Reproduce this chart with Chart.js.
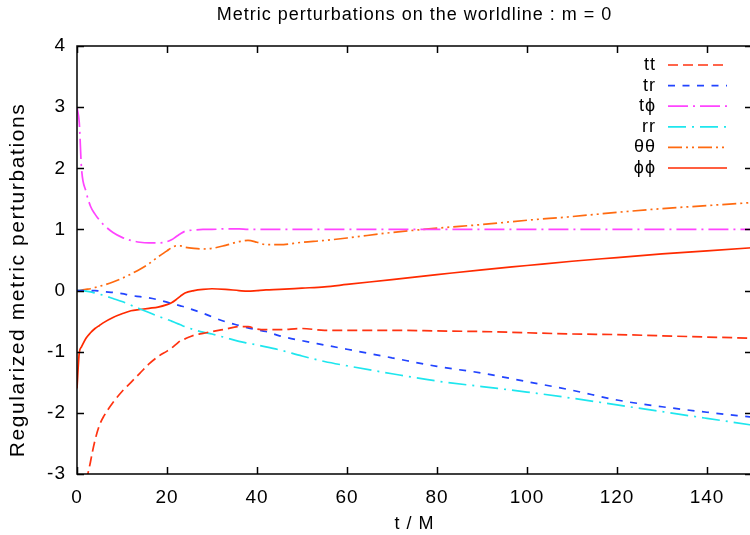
<!DOCTYPE html>
<html>
<head>
<meta charset="utf-8">
<script src="https://cdn.jsdelivr.net/npm/chart.js@4.4.0/dist/chart.umd.min.js"></script>
<style>
	html, body { margin: 0; padding: 0; background: #fff; overflow: hidden; }
	#chart { display: block; }
</style>
</head>
<body>
<canvas id="chart" width="753" height="535"></canvas>
<script>
// time samples (t / M) shared by every component
var times = [0, 0.5, 1, 2, 3, 4, 5, 6, 8, 10, 12, 14, 16, 18, 20, 21, 22, 23, 24, 26, 28, 30, 33, 36, 38, 40, 42, 45, 50, 55, 60, 70, 80, 90, 100, 110, 120, 130, 140, 150];

var h_tt = [-9, -6, -4.5, -3.25, -2.8, -2.45, -2.2, -2.05, -1.83, -1.65, -1.5, -1.35, -1.2, -1.08, -0.99, -0.94, -0.88, -0.82, -0.79, -0.73, -0.7, -0.67, -0.63, -0.59, -0.59, -0.63, -0.64, -0.64, -0.62, -0.65, -0.65, -0.65, -0.66, -0.67, -0.69, -0.71, -0.72, -0.74, -0.76, -0.78];
var h_tr = [0, 0, 0, 0, 0, 0, -0.01, -0.02, -0.03, -0.05, -0.08, -0.1, -0.12, -0.15, -0.19, -0.21, -0.23, -0.25, -0.27, -0.32, -0.37, -0.43, -0.51, -0.57, -0.61, -0.64, -0.67, -0.74, -0.82, -0.89, -0.96, -1.1, -1.24, -1.35, -1.49, -1.63, -1.79, -1.9, -1.99, -2.07];
var h_tphi = [3.0, 2.75, 2.0, 1.62, 1.38, 1.25, 1.15, 1.07, 0.95, 0.87, 0.82, 0.79, 0.78, 0.78, 0.8, 0.83, 0.88, 0.93, 0.97, 0.99, 1.0, 1.0, 1.01, 1.01, 1.0, 1.0, 1.0, 1.0, 1.0, 1.0, 1.0, 1.0, 1.0, 1.0, 1.0, 1.0, 1.0, 1.0, 1.0, 1.0];
var h_rr = [0, 0, 0, -0.01, -0.02, -0.04, -0.06, -0.08, -0.13, -0.18, -0.24, -0.3, -0.36, -0.42, -0.47, -0.5, -0.53, -0.56, -0.59, -0.64, -0.68, -0.71, -0.77, -0.83, -0.86, -0.89, -0.92, -0.97, -1.07, -1.16, -1.23, -1.36, -1.48, -1.57, -1.66, -1.76, -1.87, -1.98, -2.09, -2.2];
var h_thth = [0, 0, 0.01, 0.02, 0.03, 0.05, 0.07, 0.09, 0.14, 0.2, 0.27, 0.35, 0.44, 0.55, 0.65, 0.7, 0.73, 0.73, 0.71, 0.69, 0.68, 0.69, 0.74, 0.8, 0.82, 0.79, 0.75, 0.75, 0.79, 0.82, 0.86, 0.95, 1.02, 1.08, 1.15, 1.21, 1.28, 1.34, 1.39, 1.44];
var h_phph = [-1.6, -1.02, -0.92, -0.78, -0.69, -0.62, -0.57, -0.52, -0.44, -0.38, -0.33, -0.31, -0.29, -0.27, -0.23, -0.2, -0.15, -0.09, -0.04, 0.0, 0.02, 0.03, 0.02, 0.0, -0.01, 0.0, 0.01, 0.02, 0.04, 0.06, 0.1, 0.18, 0.26, 0.34, 0.41, 0.48, 0.54, 0.6, 0.65, 0.7];

var names = ['tt', 'tr', 't\u03d5', 'rr', '\u03b8\u03b8', '\u03d5\u03d5'];
var xTicks = [0, 20, 40, 60, 80, 100, 120, 140];
var yTicks = [-3, -2, -1, 0, 1, 2, 3, 4];

var FONT = "'Liberation Sans', Arial, Helvetica, sans-serif";

function points(values) {
	return values.map(function(v, i) {
		return { x: times[i], y: v };
	});
}

function line(label, values, color, dash) {
	return {
		label: label,
		data: points(values),
		borderColor: color,
		borderWidth: 1.7,
		borderDash: dash,
		pointRadius: 0,
		fill: false,
		cubicInterpolationMode: 'monotone'
	};
}

// box with inward ticks on all four sides
var framePlugin = {
	id: 'frame',
	afterDatasetsDraw: function(chart) {
		var c = chart.ctx, a = chart.chartArea;
		var sx = chart.scales.x, sy = chart.scales.y;
		c.save();
		c.strokeStyle = '#000';
		c.lineWidth = 1.5;
		c.beginPath();
		c.rect(a.left, a.top, a.right - a.left, a.bottom - a.top);
		xTicks.forEach(function(v) {
			var px = Math.round(sx.getPixelForValue(v)) + 0.5;
			c.moveTo(px, a.bottom); c.lineTo(px, a.bottom - 7);
			c.moveTo(px, a.top); c.lineTo(px, a.top + 7);
		});
		yTicks.forEach(function(v) {
			var py = Math.round(sy.getPixelForValue(v)) + 0.5;
			c.moveTo(a.left, py); c.lineTo(a.left + 7, py);
			c.moveTo(a.right, py); c.lineTo(a.right - 7, py);
		});
		c.stroke();
		c.restore();
	}
};

// title, y label and key, gnuplot style
var keyPlugin = {
	id: 'key',
	beforeDraw: function(chart) {
		chart.ctx.letterSpacing = '1px';
	},
	afterDraw: function(chart) {
		var c = chart.ctx, a = chart.chartArea;
		c.save();
		c.fillStyle = '#000';
		c.font = '18px ' + FONT;
		c.textAlign = 'center';
		c.textBaseline = 'middle';
		c.fillText('Metric perturbations on the worldline : m = 0', (a.left + a.right) / 2, 15);

		c.save();
		c.translate(18, 280);
		c.rotate(-Math.PI / 2);
		c.font = '21px ' + FONT;
		c.letterSpacing = '1.6px';
		c.fillText('Regularized metric perturbations', 0, 0);
		c.restore();

		c.font = '18px ' + FONT;
		c.textAlign = 'right';
		chart.data.datasets.forEach(function(ds, i) {
			var y = 65 + i * 20.6;
			c.fillStyle = '#000';
			c.fillText(ds.label, 656, y);
			c.beginPath();
			c.strokeStyle = ds.borderColor;
			c.lineWidth = ds.borderWidth;
			c.setLineDash(ds.borderDash);
			c.moveTo(668, y);
			c.lineTo(727, y);
			c.stroke();
		});
		c.restore();
	}
};

var ctx = document.getElementById('chart').getContext('2d');

var chart = new Chart(ctx, {
	type: 'line',
	data: {
		datasets: [
			line(names[0], h_tt, '#ff3311', [10, 5]),
			line(names[1], h_tr, '#2244ff', [7, 7.5]),
			line(names[2], h_tphi, '#ff44ff', [20, 5, 2, 5]),
			line(names[3], h_rr, '#1ee6ee', [18, 6, 2, 6]),
			line(names[4], h_thth, '#ff6a10', [14, 4, 2, 4, 2, 4]),
			line(names[5], h_phph, '#ff2a00', [])
		]
	},
	options: {
		responsive: false,
		animation: false,
		devicePixelRatio: 1,
		layout: { padding: { top: 46, right: 1, left: 0, bottom: 0 } },
		plugins: {
			legend: { display: false },
			tooltip: { enabled: false },
			title: { display: false }
		},
		scales: {
			x: {
				type: 'linear',
				min: 0,
				max: 150,
				grid: { display: false },
				border: { display: false },
				ticks: {
					stepSize: 20,
					includeBounds: false,
					maxRotation: 0,
					color: '#000',
					padding: 4,
					font: { family: FONT, size: 19 }
				},
				title: {
					display: true,
					text: 't / M',
					color: '#000',
					font: { family: FONT, size: 18 },
					padding: { top: 0, bottom: 0 }
				},
				afterFit: function(scale) { scale.height = 61; }
			},
			y: {
				type: 'linear',
				min: -3,
				max: 4,
				grid: { display: false },
				border: { display: false },
				ticks: {
					stepSize: 1,
					color: '#000',
					padding: 3,
					font: { family: FONT, size: 19 }
				},
				afterFit: function(scale) { scale.width = 77; }
			}
		}
	},
	plugins: [framePlugin, keyPlugin]
});
</script>
</body>
</html>
